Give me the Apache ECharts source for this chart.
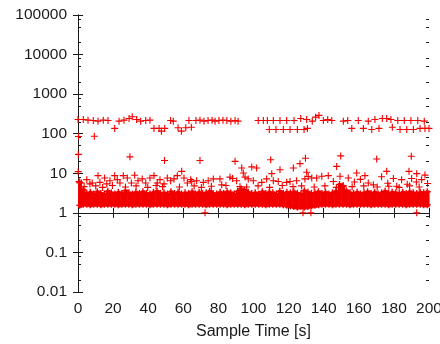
<!DOCTYPE html>
<html><head><meta charset="utf-8">
<script src="https://cdn.jsdelivr.net/npm/echarts@6/dist/echarts.min.js"></script>
<style>html,body{margin:0;padding:0;background:#fff}#c{width:440px;height:344px}</style>
</head><body><div id="c"></div>
<script>
// ---- axis definitions ----
const xMin = 0, xMax = 200, xStep = 20;
const xTitle = 'Sample Time [s]';
const yTickValues = [0.01, 0.1, 1, 10, 100, 1000, 10000, 100000];
const yTickLabels = ['0.01', '0.1', '1', '10', '100', '1000', '10000', '100000'];
const yMinorTicks = [0.02, 0.05, 0.08, 0.2, 0.5, 0.8, 2, 5, 8, 20, 50, 80, 200, 500, 800,
  2000, 5000, 8000, 20000, 50000, 80000];

// ---- data: upper cluster (~100-300) ----
const upperPts = [[0,229],[3.0,229],[5.7,220],[8.7,216],[11.4,208],[14.4,220],[17.1,216],[20.9,136],
  [23.4,208],[26.2,220],[29.1,243],[30.9,269],[33.4,229],[35.7,208],[38.6,216],[41.0,220],[43.3,136],
  [46.2,136],[47.5,116],[49.4,136],[52.8,216],[54.3,208],[57.0,141],[58.9,116],[61.4,141],[63.2,216],
  [64.6,146],[67.2,216],[69.5,220],[71.8,208],[74.1,216],[76.4,220],[78.1,208],[80.3,216],[82.6,220],
  [84.8,216],[87.1,208],[89.5,216],[91.2,208],
  [102.7,216],[105.6,216],[107.9,216],[111.3,216],[115.1,216],[118.9,216],[123.1,216],[126.9,243],[130.3,229],
  [109.0,128],[112.8,128],[117.0,128],[120.8,128],[125.0,128],[128.8,128],[130.7,136],
  [133.5,208],[135.4,262],[137.3,290],[139.8,216],[142.3,229],[144.6,216],[151.2,208],[153.7,216],
  [156.0,136],[159.7,216],[162.6,136],[165.4,208],[167.4,128],[169.2,229],[171.5,136],[173.4,243],
  [175.9,243],[178.3,229],[179.1,146],[182.2,216],[183.5,128],[185.9,216],[187.3,128],[189.7,216],
  [191.1,128],[193.6,216],[194.9,136],[197.3,208],[197.7,136],[200,136]];

// ---- data: sparse points (~10-90) ----
const midPts = [[29.6,26],[49.3,21],[69.5,21],[89.5,20],[109.8,22],[129.6,24],[149.7,27.5],[170.2,23],
  [189.9,27],[59.1,11.2],[93.3,13.6],[94.2,10.2],[99.0,14.5],[101.8,13.6],[110.4,9.8],[115.1,12.3],
  [122.7,13.6],[126.5,17.5],[130.3,10.6],[147.4,14.9],[188.6,11.2],[193.0,9.8],[175.9,11.2],[158.8,10.2],
  [163.5,8.7],[0.3,85],[9.3,86],[0.2,30],[0.1,11]];

// ---- data: row just above the main band (~4.5-9) ----
const rowPts = [[0.6,6.2],[1.9,5.7],[5.0,6.9],[6.8,5.4],[8.1,5.7],[11.4,8.7],[12.5,5.9],[15.2,7.6],
  [16.4,5.4],[18.2,6.5],[20.9,8.7],[22.4,6.9],[23.9,5.7],[25.8,8.7],[28.1,7.6],[30.4,5.7],[32.3,8.9],
  [34.2,6.5],[36.6,7.2],[38.6,5.7],[41.0,7.6],[43.3,8.7],[45.2,5.7],[46.7,6.9],[49.0,5.4],[50.9,7.6],
  [52.8,6.5],[54.7,7.2],[56.6,8.7],[60.4,7.6],[62.3,5.7],[64.2,6.9],
  [64.8,6.2],[67.6,6.5],[71.4,5.9],[74.2,6.5],[77.1,7.2],[80.9,7.2],[81.9,5.1],[86.6,8.0],[88.1,7.4],
  [90.4,6.5],[92.3,4.6],[95.2,8.0],[97.0,7.2],[99.9,6.5],[104.7,5.9],[107.5,7.2],[111.3,6.5],[114.1,6.2],
  [118.9,5.9],[120.8,6.2],[124.6,6.5],[129.3,7.2],[131.2,8.3],
  [133.2,7.6],[136.0,7.6],[138.9,8.4],[142.6,8.7],[145.5,6.2],[149.3,8.4],[154.0,7.6],[157.5,6.0],
  [160.9,7.0],[165.4,5.7],[168.3,5.1],[173.0,8.2],[176.5,5.6],[179.7,7.4],[181.6,4.7],[184.4,6.9],
  [187.6,5.3],[190.1,7.4],[192.8,6.0],[195.8,6.9],[197.7,9.0],[199.2,5.5]];

// ---- data: crosses hugging the top of the band (~4.4-5) ----
const edgePts = [[3.5,4.6],[10.1,4.8],[14.0,4.4],[19.6,4.9],[27.0,4.5],[33.1,4.8],[39.7,4.4],[44.5,4.9],
  [48.2,4.6],[57.8,4.5],[66.2,4.8],[70.3,4.4],[76.0,4.7],[84.3,4.9],[96.1,4.5],[102.6,4.8],[109.2,4.4],
  [116.4,4.9],[122.5,4.6],[127.4,4.8],[134.6,4.5],[140.7,4.8],[147.2,4.4],[151.1,4.9],[156.2,4.6],
  [162.8,4.8],[170.5,4.5],[177.1,4.7],[183.0,4.4],[188.9,4.8],[194.4,4.5]];

// ---- data: points below the band (~1) ----
const lowPts = [[72.4,1.0],[128.2,1.0],[132.7,1.0],[193.0,1.0]];

// ---- data: dense main band, 2 s bins (low / high extent of the packed points) ----
const bandStep = 2;
const bandHi = [5.8,3.8,3.1,3.3,3.0,3.4,3.1,3.0,3.5,3.2,
  3.0,3.3,3.1,3.6,3.2,3.0,3.3,3.1,3.4,3.1,
  3.0,3.3,3.5,3.1,3.2,3.0,3.4,3.1,3.3,3.0,
  3.2,3.1,3.4,3.0,3.3,3.1,3.2,3.5,3.1,3.0,
  3.3,3.1,3.4,3.2,3.0,3.5,4.0,3.7,3.3,3.1,
  3.2,3.0,3.4,3.1,3.3,3.2,3.0,3.5,3.1,3.3,
  3.2,3.4,3.1,3.0,3.6,3.3,3.1,3.2,3.4,3.1,
  3.3,3.0,3.2,3.5,5.2,4.7,3.6,3.2,3.1,3.3,
  3.0,3.2,3.4,3.1,3.3,3.0,3.2,3.5,3.1,3.3,
  3.2,3.0,3.3,3.1,3.4,3.2,3.1,3.3,3.2,3.4];
const bandLo = [1.55,1.65,1.65,1.6,1.65,1.65,1.6,1.65,1.65,1.65,
  1.65,1.6,1.65,1.65,1.65,1.6,1.65,1.65,1.65,1.65,
  1.6,1.65,1.65,1.65,1.65,1.6,1.65,1.65,1.65,1.65,
  1.65,1.6,1.65,1.65,1.65,1.65,1.6,1.65,1.65,1.65,
  1.65,1.65,1.6,1.65,1.65,1.65,1.65,1.6,1.65,1.65,
  1.65,1.65,1.65,1.6,1.65,1.65,1.65,1.65,1.6,1.55,
  1.5,1.45,1.4,1.45,1.4,1.45,1.5,1.55,1.6,1.65,
  1.65,1.65,1.6,1.65,1.65,1.65,1.65,1.6,1.65,1.65,
  1.65,1.65,1.65,1.6,1.65,1.65,1.65,1.65,1.6,1.65,
  1.65,1.65,1.65,1.6,1.65,1.65,1.65,1.65,1.6,1.6];

// ---- styling ----
const RED = '#f20000';
const INK = '#1a1a1a';
const FONT = 'Liberation Sans, Arial, sans-serif';
const PLUS = 'path://M0,4.2H4.2V0H5.8V4.2H10V5.8H5.8V10H4.2V5.8H0Z';

const chart = echarts.init(document.getElementById('c'), null, {renderer: 'canvas'});

const lineStyle = {color: INK, width: 1};
const yLabelMap = {};
yTickValues.forEach((v, i) => { yLabelMap[String(v)] = yTickLabels[i]; });
const logMin = Math.log10(yTickValues[0]);
const logMax = Math.log10(yTickValues[yTickValues.length - 1]);
const minorLog = yMinorTicks.map(v => Math.log10(v));

function minorAxis(pos) {
  return {
    type: 'value', position: pos, min: logMin, max: logMax,
    axisLine: {show: false}, splitLine: {show: false}, axisLabel: {show: false},
    axisTick: {show: true, inside: true, length: 3, customValues: minorLog, lineStyle: lineStyle}
  };
}

const scatterBase = {
  type: 'scatter', symbol: PLUS, symbolSize: 7, xAxisIndex: 0, yAxisIndex: 0,
  itemStyle: {color: RED, opacity: 1}, silent: true, clip: false
};

const option = {
  animation: false,
  backgroundColor: '#fff',
  grid: {left: 78, right: 11, top: 15, bottom: 52, outerBoundsMode: 'none', containLabel: false},
  xAxis: [
    {
      type: 'value', position: 'bottom', min: xMin, max: xMax, interval: xStep,
      axisLine: {show: true, lineStyle: lineStyle},
      axisTick: {show: true, inside: true, length: 5, lineStyle: lineStyle},
      axisLabel: {color: INK, fontFamily: FONT, fontSize: 15.5, margin: 9},
      splitLine: {show: false},
      name: xTitle, nameLocation: 'middle', nameGap: 32,
      nameTextStyle: {color: INK, fontFamily: FONT, fontSize: 16}
    },
    {
      type: 'value', position: 'top', min: xMin, max: xMax, interval: xStep,
      axisLine: {show: true, lineStyle: lineStyle},
      axisTick: {show: true, inside: true, length: 5, lineStyle: lineStyle},
      axisLabel: {show: false}, splitLine: {show: false}
    }
  ],
  yAxis: [
    {
      type: 'log', logBase: 10, position: 'left',
      min: yTickValues[0], max: yTickValues[yTickValues.length - 1],
      axisLine: {show: true, lineStyle: lineStyle},
      axisTick: {show: true, inside: true, length: 5, lineStyle: lineStyle},
      axisLabel: {color: INK, fontFamily: FONT, fontSize: 15.5, margin: 11,
        formatter: v => (yLabelMap[String(v)] !== undefined ? yLabelMap[String(v)] : '')},
      splitLine: {show: false}
    },
    {
      type: 'log', logBase: 10, position: 'right',
      min: yTickValues[0], max: yTickValues[yTickValues.length - 1],
      axisLine: {show: true, lineStyle: lineStyle},
      axisTick: {show: true, inside: true, length: 5, lineStyle: lineStyle},
      axisLabel: {show: false}, splitLine: {show: false}
    },
    minorAxis('left'),
    minorAxis('right')
  ],
  series: [
    {
      type: 'custom', xAxisIndex: 0, yAxisIndex: 0, silent: true, clip: false,
      encode: {x: 0, y: [1, 2]},
      data: bandHi.map((h, i) => [i * bandStep, bandLo[i], h]),
      renderItem: function (params, api) {
        const x0 = api.value(0), lo = api.value(1), hi = api.value(2);
        const a = api.coord([x0, hi]);
        const b = api.coord([x0 + bandStep, lo]);
        const cx = (a[0] + b[0]) / 2;
        const children = [{
          type: 'rect',
          shape: {x: a[0], y: a[1] - 1.5, width: b[0] - a[0] + 0.6, height: b[1] - a[1] + 4},
          style: {fill: RED}
        }];
        [a[1], b[1]].forEach(y => {
          children.push({type: 'rect', shape: {x: cx - 3.5, y: y - 0.7, width: 7, height: 1.4}, style: {fill: RED}});
          children.push({type: 'rect', shape: {x: cx - 0.7, y: y - 3.5, width: 1.4, height: 7}, style: {fill: RED}});
        });
        return {type: 'group', children: children};
      }
    },
    Object.assign({}, scatterBase, {data: edgePts}),
    Object.assign({}, scatterBase, {data: rowPts}),
    Object.assign({}, scatterBase, {data: midPts}),
    Object.assign({}, scatterBase, {data: upperPts}),
    Object.assign({}, scatterBase, {data: lowPts})
  ]
};
chart.setOption(option);
</script>
</body></html>
